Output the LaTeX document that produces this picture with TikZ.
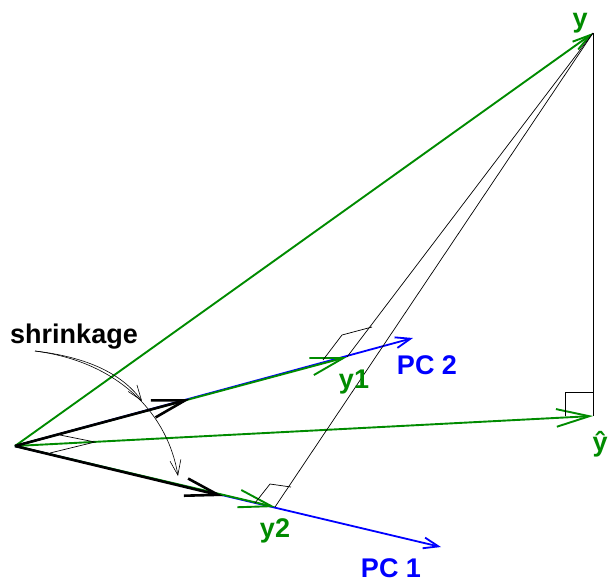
\documentclass[tikz,border=0pt]{standalone}
\usepackage{fontspec}
\setmainfont{Liberation Sans}
\usepackage{xcolor}
\usetikzlibrary{arrows.meta}
\definecolor{rgreen}{RGB}{0,139,0}

\begin{document}
\begin{tikzpicture}[x=1pt, y=-1pt, font=\fontsize{27}{29}\selectfont\bfseries,
    big/.style={-{Straight Barb[length=33pt, angle'=30]}},
    mid/.style={-{Straight Barb[length=18pt, angle'=30]}},
    small/.style={-{Straight Barb[length=15pt, angle'=40]}},
    lbl/.style={anchor=base, inner sep=0pt}]
    \useasboundingbox (0,0) rectangle (609,584);

    % points
    \coordinate (O) at (15,446);
    \coordinate (y) at (593,33);
    \coordinate (yh) at (593,416);
    \coordinate (y1) at (347,357);
    \coordinate (y2) at (275,507);
    \coordinate (pc2) at (413,338);
    \coordinate (pc1) at (441,547);
    \coordinate (s1) at (190,399);
    \coordinate (s2) at (223,496);
    \coordinate (a) at (60,435);
    \coordinate (b) at (50,453);
    \coordinate (c) at (95,442);
    \coordinate (sh) at (35,351);
    \coordinate (t1) at (142,401);
    \coordinate (t2) at (178,476);

    % principal components
    \draw[blue, line width=1.8pt, small] (O) -- (pc2);
    \draw[blue, line width=1.8pt, small] (O) -- (pc1);

    % y, fitted and projections
    \draw[rgreen, line width=1.9pt, mid] (O) -- (y);
    \draw[rgreen, line width=1.9pt, big] (O) -- (yh);
    \draw[rgreen, line width=1.9pt, big] (O) -- (y1);
    \draw[rgreen, line width=1.9pt, big] (O) -- (y2);

    % shrunk
    \draw[line width=2.6pt, big] (O) -- (s1);
    \draw[line width=2.6pt, big] (O) -- (s2);

    % perpendiculars
    \draw[line width=0.7pt] (y) -- (yh);
    \draw[line width=0.7pt] (y) -- (y1);
    \draw[line width=0.7pt] (y) -- (y2);
    \draw[line width=0.7pt] (565,416) -- (565,392) -- (593,392);
    \draw[line width=0.7pt] (323,360) -- (342,335) -- (372,327);
    \draw[line width=0.7pt] (255,503) -- (270,484) -- (291,487);
    \draw[line width=0.7pt] (a) -- (c) -- (b);

    % shrinkage arrows
    \draw[line width=0.6pt, small] (sh) .. controls (95,358) and (125,378) .. (t1);
    \draw[line width=0.6pt, small] (sh) .. controls (120,362) and (168,415) .. (t2);

    \node[lbl] (lsh) at (74,343) {shrinkage};
    \node[lbl, text=rgreen] (ly) at (580,27) {y};
    \node[lbl, text=rgreen] (lyh) at (600,451) {ŷ};
    \node[lbl, text=rgreen] (ly1) at (354,388) {y1};
    \node[lbl, text=rgreen] (ly2) at (275,537) {y2};
    \node[lbl, text=blue] (lpc2) at (427,374) {PC 2};
    \node[lbl, text=blue] (lpc1) at (391,577) {PC 1};
\end{tikzpicture}
\end{document}
